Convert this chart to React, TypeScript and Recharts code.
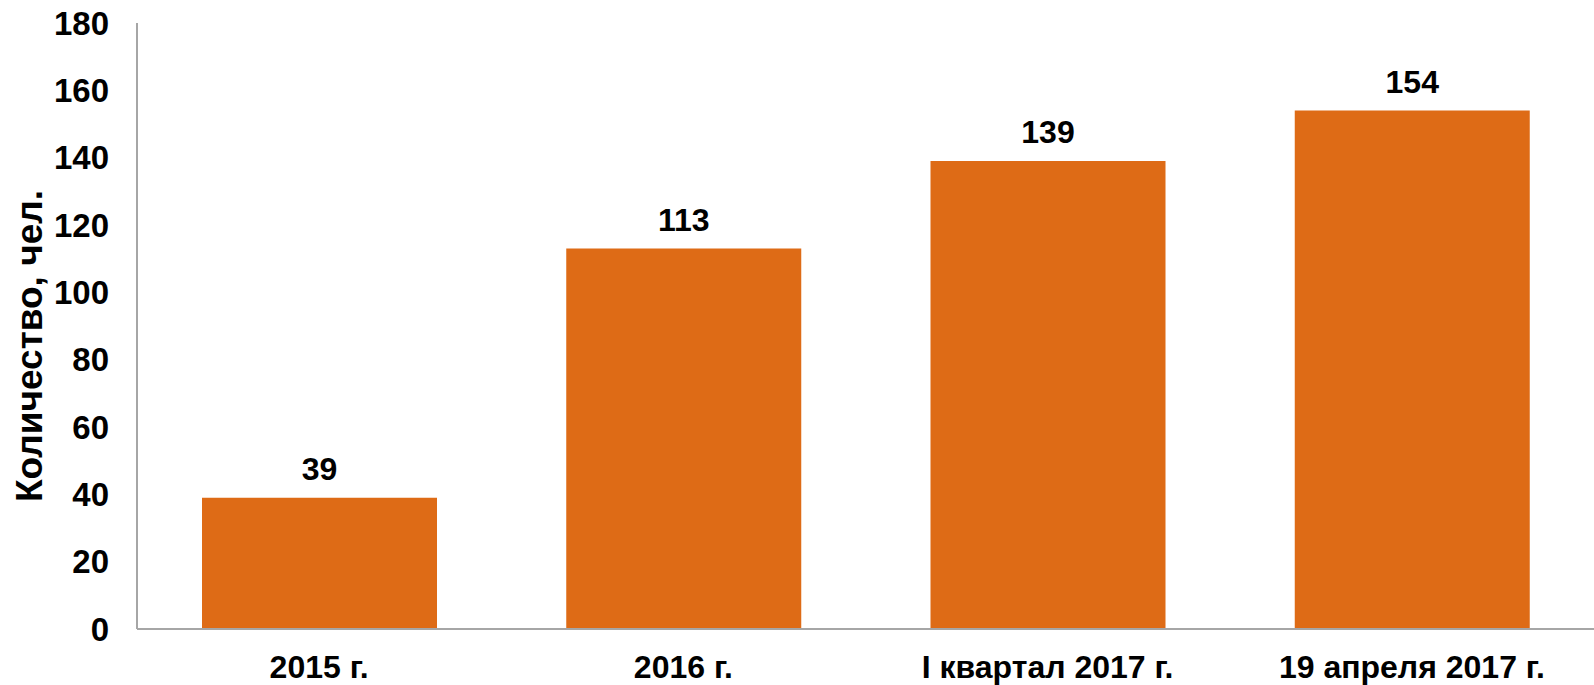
import React from 'react'
import { BarChart, Bar, XAxis, YAxis, LabelList, Label } from 'recharts'

const categories = ['2015 г.', '2016 г.', 'I квартал 2017 г.', '19 апреля 2017 г.']
const values = [39, 113, 139, 154]
const yTicks = [0, 20, 40, 60, 80, 100, 120, 140, 160, 180]

const FONT = '"Liberation Sans", Arial, sans-serif'
const BAR_COLOR = '#DE6B16'
const AXIS_COLOR = '#A6A6A6'

export default function App() {
  const data = categories.map((name, i) => ({ name, value: values[i] }))

  return (
    <div style={{ width: 1594, height: 685, fontFamily: FONT }}>
      <style>{'body{margin:0}'}</style>
      <BarChart
        width={1594}
        height={685}
        data={data}
        margin={{ top: 23, right: 0, left: 0, bottom: 0 }}
        barSize={235}
      >
        <XAxis
          dataKey="name"
          height={56}
          axisLine={{ stroke: AXIS_COLOR, strokeWidth: 2 }}
          tickLine={false}
          tickSize={0}
          tickMargin={26}
          tick={{ fill: '#000', fontSize: 32, fontWeight: 700, fontFamily: FONT }}
        />
        <YAxis
          width={137}
          domain={[0, 180]}
          ticks={yTicks}
          interval={0}
          axisLine={{ stroke: AXIS_COLOR, strokeWidth: 2 }}
          tickLine={false}
          tickSize={0}
          tickMargin={28}
          tick={{ fill: '#000', fontSize: 33, fontWeight: 700, fontFamily: FONT }}
        >
          <Label
            value="Количество, чел."
            angle={-90}
            position="center"
            dx={-40}
            dy={20}
            style={{ fill: '#000', fontSize: 37, fontWeight: 700, fontFamily: FONT }}
          />
        </YAxis>
        <Bar dataKey="value" fill={BAR_COLOR} isAnimationActive={false}>
          <LabelList
            dataKey="value"
            position="top"
            offset={18}
            style={{ fill: '#000', fontSize: 32, fontWeight: 700, fontFamily: FONT }}
          />
        </Bar>
      </BarChart>
    </div>
  )
}
